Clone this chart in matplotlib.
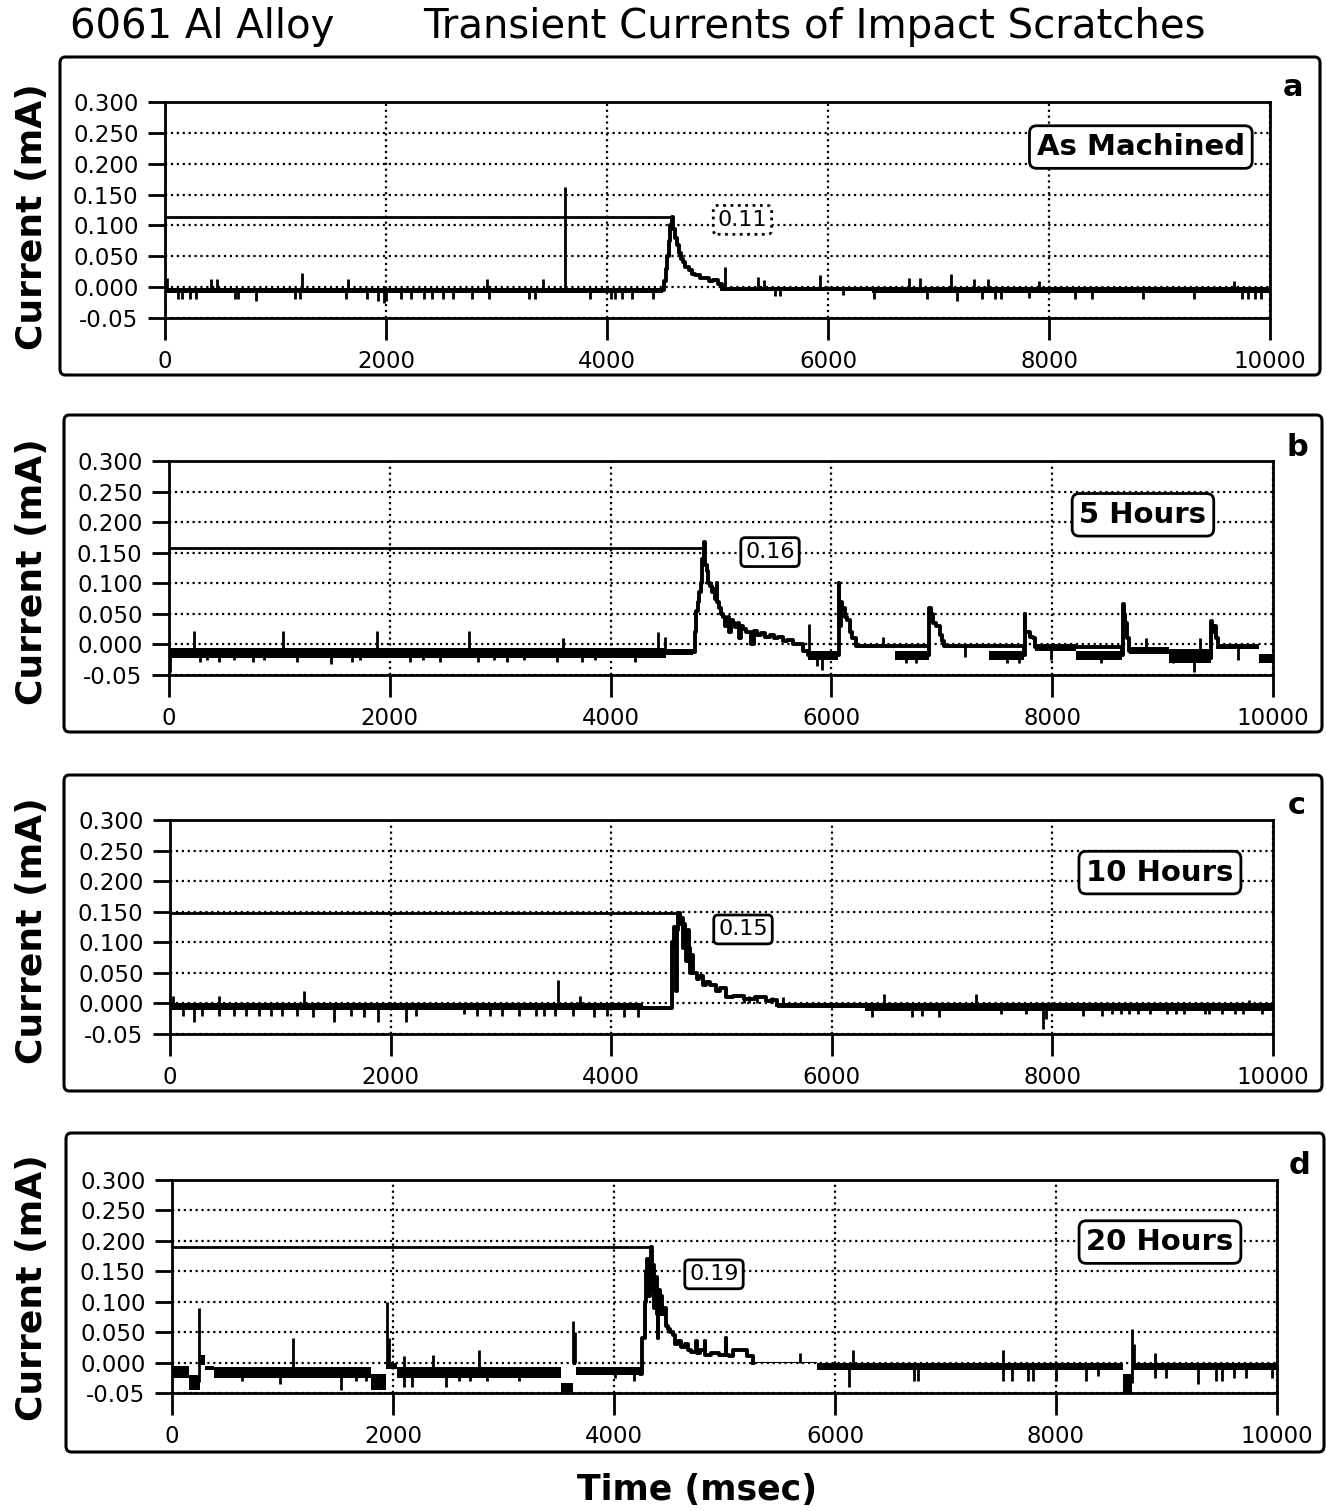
import matplotlib.pyplot as plt
import numpy as np
from matplotlib.patches import FancyBboxPatch

plt.rcParams['font.family'] = 'DejaVu Sans'

W, H = 1326, 1511

# ---------------- data (time in msec, current in mA) ----------------
# dense noise band: (t0, t1, low, high)
# transient trace: (t, i) steps
# thin spikes: (t, tip)
y_ticks = [-0.05, 0.0, 0.05, 0.10, 0.15, 0.20, 0.25, 0.30]
y_tick_labels = ['-0.05', '0.000', '0.050', '0.100', '0.150', '0.200', '0.250', '0.300']
x_ticks = [0, 2000, 4000, 6000, 8000, 10000]

# a - as machined
a_band = [(0, 4510, -0.010, -0.001), (5040, 6400, -0.007, 0.000), (6400, 10000, -0.010, 0.000)]
a_trace = [(4500, -0.005), (4515, 0.010), (4530, 0.030), (4545, 0.050), (4560, 0.075), (4572, 0.100),
           (4585, 0.113), (4600, 0.095), (4615, 0.080), (4630, 0.068), (4650, 0.055), (4670, 0.045),
           (4690, 0.040), (4710, 0.032), (4740, 0.028), (4770, 0.022), (4800, 0.020), (4840, 0.015),
           (4880, 0.015), (4920, 0.010), (4960, 0.012), (5000, 0.005), (5040, -0.003)]
a_up = [(20, 0.015), (420, 0.014), (475, 0.014), (1240, 0.023), (1660, 0.014), (2915, 0.014),
        (3420, 0.014), (3620, 0.163), (5065, 0.033), (5370, 0.016), (5420, 0.012), (5930, 0.020),
        (6730, 0.015), (6830, 0.015), (7110, 0.022), (7320, 0.013), (7450, 0.013), (7910, 0.010),
        (9670, 0.010)]
a_dn = [(115, -0.020), (150, -0.020), (230, -0.020), (285, -0.020), (630, -0.020), (665, -0.020),
        (820, -0.022), (1180, -0.020), (1220, -0.020), (1640, -0.020), (1830, -0.020), (1925, -0.022),
        (1980, -0.025), (2000, -0.022), (2135, -0.020), (2230, -0.020), (2345, -0.020), (2420, -0.020),
        (2515, -0.020), (2610, -0.020), (2780, -0.020), (2935, -0.020), (3295, -0.020), (3350, -0.020),
        (3850, -0.020), (4040, -0.020), (4075, -0.020), (4135, -0.020), (4230, -0.020), (4420, -0.020),
        (5520, -0.015), (5570, -0.015), (6135, -0.012), (6420, -0.020), (6900, -0.020), (7165, -0.022),
        (7395, -0.020), (7510, -0.020), (7570, -0.020), (7815, -0.018), (8235, -0.020), (8390, -0.020),
        (8850, -0.020), (9310, -0.020), (9750, -0.020), (9805, -0.020), (9860, -0.020), (9920, -0.020)]
a_max = (4585, 0.113)

# b - 5 hours
b_band = [(0, 4500, -0.022, -0.006), (4500, 4745, -0.018, -0.008), (5790, 6060, -0.026, -0.010),
          (6220, 6580, -0.006, 0.000), (6580, 6880, -0.026, -0.010), (7020, 7430, -0.006, 0.000),
          (7430, 7745, -0.026, -0.010), (7845, 8220, -0.010, 0.000), (8220, 8635, -0.026, -0.010),
          (8700, 9060, -0.015, -0.005), (9060, 9435, -0.030, -0.012), (9500, 9870, -0.008, 0.000),
          (9870, 10000, -0.030, -0.015)]
b_trace = [(4745, -0.013), (4760, 0.020), (4775, 0.055), (4790, 0.070), (4805, 0.085), (4820, 0.100),
           (4832, 0.140), (4846, 0.168), (4858, 0.130), (4870, 0.120), (4885, 0.100), (4900, 0.095),
           (4915, 0.085), (4930, 0.090), (4945, 0.075), (4960, 0.100), (4968, 0.070), (4985, 0.060),
           (5000, 0.050), (5020, 0.045), (5040, 0.030), (5060, 0.045), (5075, 0.020), (5090, 0.040),
           (5110, 0.035), (5130, 0.028), (5150, 0.035), (5160, 0.010), (5180, 0.030), (5200, 0.025),
           (5230, 0.020), (5260, 0.020), (5270, 0.000), (5300, 0.022), (5330, 0.015), (5360, 0.018),
           (5400, 0.012), (5440, 0.015), (5480, 0.010), (5520, 0.012), (5560, 0.005), (5600, 0.008),
           (5650, 0.000), (5700, 0.000), (5740, -0.010), (5790, -0.018),
           (6060, -0.018), (6065, 0.100), (6072, 0.030), (6085, 0.070), (6100, 0.060), (6120, 0.045),
           (6140, 0.040), (6165, 0.020), (6190, 0.010), (6220, -0.003),
           (6880, -0.018), (6884, 0.060), (6900, 0.050), (6920, 0.035), (6950, 0.030), (6980, 0.015),
           (7005, 0.005), (7020, -0.003),
           (7745, -0.018), (7750, 0.050), (7758, 0.020), (7780, 0.020), (7800, 0.012), (7830, 0.010),
           (7845, -0.005),
           (8635, -0.018), (8640, 0.066), (8650, 0.050), (8662, 0.035), (8680, 0.010), (8700, -0.010),
           (9435, -0.022), (9440, 0.038), (9450, 0.020), (9460, 0.030), (9480, 0.010), (9500, -0.004)]
b_up = [(228, 0.022), (1030, 0.022), (1880, 0.022), (2720, 0.022), (3565, 0.010), (4430, 0.020),
        (4494, 0.012), (5800, 0.034), (6465, 0.012), (8846, 0.010), (9341, 0.010)]
b_dn = [(5, -0.045), (285, -0.028), (342, -0.025), (456, -0.028), (589, -0.025), (760, -0.028),
        (856, -0.025), (1160, -0.028), (1464, -0.032), (1654, -0.028), (1730, -0.025), (2186, -0.028),
        (2300, -0.025), (2452, -0.028), (2795, -0.028), (2947, -0.025), (3061, -0.028), (3213, -0.025),
        (3517, -0.028), (3745, -0.028), (3859, -0.025), (4221, -0.028), (5874, -0.035), (5912, -0.042),
        (6674, -0.030), (6770, -0.030), (7208, -0.020), (7589, -0.030), (7703, -0.030), (7989, -0.025),
        (8446, -0.030), (9093, -0.030), (9284, -0.045), (9684, -0.025)]
b_max = (4846, 0.158)

# c - 10 hours
c_band = [(0, 4290, -0.010, 0.000), (4290, 4545, -0.011, -0.004), (5500, 6300, -0.007, 0.000),
          (6300, 10000, -0.012, 0.000)]
c_trace = [(4545, -0.007), (4552, 0.100), (4565, 0.125), (4580, 0.090), (4588, 0.020), (4598, 0.120),
           (4610, 0.148), (4625, 0.130), (4638, 0.140), (4650, 0.090), (4660, 0.130), (4672, 0.110),
           (4682, 0.070), (4692, 0.120), (4702, 0.090), (4712, 0.050), (4722, 0.080), (4740, 0.050),
           (4760, 0.050), (4780, 0.040), (4800, 0.045), (4830, 0.030), (4860, 0.035), (4900, 0.030),
           (4950, 0.020), (4990, 0.025), (5040, 0.010), (5100, 0.012), (5200, 0.008), (5300, 0.010),
           (5400, 0.004), (5450, 0.006), (5500, -0.003)]
c_up = [(27, 0.012), (445, 0.012), (1217, 0.020), (3517, 0.038), (3715, 0.012), (5200, 0.013),
        (5250, 0.012), (5320, 0.012), (5460, 0.010), (5560, 0.010), (6470, 0.015), (7310, 0.015),
        (9786, 0.006)]
c_dn = [(122, -0.020), (217, -0.030), (293, -0.020), (445, -0.020), (578, -0.020), (692, -0.020),
        (806, -0.020), (920, -0.020), (1015, -0.020), (1148, -0.020), (1300, -0.022), (1490, -0.030),
        (1643, -0.020), (1757, -0.022), (1890, -0.030), (2137, -0.030), (2232, -0.020), (2669, -0.018),
        (2783, -0.020), (2897, -0.020), (3011, -0.020), (3163, -0.020), (3316, -0.020), (3392, -0.020),
        (3487, -0.020), (3658, -0.020), (3848, -0.022), (3962, -0.020), (4114, -0.022), (4247, -0.022),
        (6363, -0.022), (6727, -0.022), (6822, -0.020), (6975, -0.022), (7530, -0.018), (7759, -0.018),
        (7912, -0.042), (7939, -0.025), (8275, -0.020), (8447, -0.020), (8543, -0.018), (8620, -0.018),
        (8696, -0.018), (8772, -0.018), (8887, -0.018), (9040, -0.018), (9117, -0.018), (9193, -0.018),
        (9384, -0.018), (9423, -0.018), (9537, -0.018), (9652, -0.018), (9728, -0.018), (9900, -0.018)]
c_max = (4620, 0.148)

# d - 20 hours
d_band = [(0, 150, -0.025, -0.005), (150, 250, -0.045, -0.020), (250, 300, -0.004, 0.012),
          (300, 380, -0.013, -0.005), (380, 1800, -0.025, -0.008), (1800, 1935, -0.045, -0.018),
          (1935, 2040, -0.010, 0.000), (2040, 3520, -0.025, -0.008), (3520, 3625, -0.048, -0.033),
          (3625, 3660, -0.004, 0.004), (3660, 4245, -0.020, -0.008), (5260, 5840, -0.001, 0.001),
          (5840, 8610, -0.012, 0.000), (8610, 8690, -0.050, -0.018), (8690, 10000, -0.012, 0.000)]
d_trace = [(4245, -0.018), (4255, 0.040), (4272, 0.040), (4282, 0.100), (4292, 0.150), (4302, 0.170),
           (4312, 0.110), (4322, 0.170), (4335, 0.190), (4345, 0.120), (4355, 0.160), (4365, 0.090),
           (4375, 0.140), (4385, 0.080), (4395, 0.040), (4402, 0.120), (4412, 0.080), (4422, 0.110),
           (4435, 0.080), (4450, 0.090), (4470, 0.060), (4490, 0.055), (4510, 0.050), (4530, 0.045),
           (4550, 0.030), (4580, 0.035), (4610, 0.025), (4640, 0.030), (4670, 0.020), (4700, 0.018),
           (4743, 0.035), (4750, 0.015), (4780, 0.020), (4820, 0.035), (4828, 0.012), (4880, 0.015),
           (4950, 0.012), (5011, 0.040), (5018, 0.012), (5040, 0.010), (5080, 0.020), (5150, 0.020),
           (5200, 0.010), (5255, 0.010), (5260, 0.000)]
d_up = [(245, 0.090), (1093, 0.040), (1947, 0.100), (1966, 0.040), (2100, 0.010), (2364, 0.012),
        (2780, 0.020), (3628, 0.068), (3645, 0.050), (5682, 0.015), (6161, 0.020), (7521, 0.020),
        (8690, 0.055), (8705, 0.030), (8900, 0.015)]
d_dn = [(638, -0.030), (979, -0.035), (1530, -0.045), (1662, -0.030), (1757, -0.030), (2100, -0.040),
        (2175, -0.040), (2478, -0.040), (2600, -0.030), (2700, -0.030), (2850, -0.030), (3140, -0.030),
        (4010, -0.025), (4180, -0.030), (6123, -0.040), (6716, -0.030), (6755, -0.030), (7521, -0.030),
        (7600, -0.030), (7750, -0.030), (7790, -0.030), (8000, -0.030), (8268, -0.030), (8380, -0.022),
        (8900, -0.025), (8995, -0.025), (9284, -0.035), (9450, -0.030), (9500, -0.030), (9610, -0.025),
        (9720, -0.025), (9954, -0.025)]
d_max = (4335, 0.190)

panel_letters = ['a', 'b', 'c', 'd']
panel_names = ['As Machined', '5 Hours', '10 Hours', '20 Hours']
peak_labels = ['0.11', '0.16', '0.15', '0.19']

# ---------------- layout (pixels) ----------------
axes_px = [(165, 102, 1270, 318), (169, 461, 1273, 675), (170, 820, 1273, 1034), (172, 1180, 1277, 1393)]
frame_px = [(60, 57, 1320, 375), (64, 415, 1322, 732), (64, 775, 1322, 1091), (66, 1133, 1324, 1452)]
letter_px = [(1293, 87), (1297, 447), (1297, 805), (1300, 1165)]
ylabel_y = [217, 572, 931, 1288]
name_pos = [(8831, 0.227), (8822, 0.212), (8975, 0.214), (8941, 0.198)]
peak_pos = [(5226, 0.109), (5444, 0.151), (5195, 0.121), (4905, 0.145)]

bands = [a_band, b_band, c_band, d_band]
traces = [a_trace, b_trace, c_trace, d_trace]
ups = [a_up, b_up, c_up, d_up]
downs = [a_dn, b_dn, c_dn, d_dn]
maxes = [a_max, b_max, c_max, d_max]


def fx(px):
    return px / W


def fy(py):
    return 1 - py / H


def band_mid(t, band):
    for t0, t1, lo, hi in band:
        if t0 <= t <= t1:
            return (lo + hi) / 2
    return 0.0


fig = plt.figure(figsize=(W / 100, H / 100), dpi=100)

for k in range(4):
    x0, y0, x1, y1 = frame_px[k]
    fig.add_artist(FancyBboxPatch((fx(x0), fy(y1)), fx(x1 - x0), (y1 - y0) / H,
                                  boxstyle='round,pad=0,rounding_size=0.004',
                                  transform=fig.transFigure, fill=False, lw=2.2, ec='k'))

    l, t, r, b = axes_px[k]
    ax = fig.add_axes([fx(l), fy(b), fx(r - l), (b - t) / H])
    ax.set_xlim(0, 10000)
    ax.set_ylim(-0.05, 0.30)
    ax.set_xticks(x_ticks)
    ax.set_xticklabels([str(v) for v in x_ticks])
    ax.set_yticks(y_ticks)
    ax.set_yticklabels(y_tick_labels)
    ax.tick_params(axis='y', direction='out', length=12, width=2, pad=7, labelsize=16.5)
    ax.tick_params(axis='x', direction='out', length=16, width=2, pad=7, labelsize=16.5)
    ax.grid(True, ls=':', lw=1.6, color='k')
    ax.set_axisbelow(True)
    for s in ax.spines.values():
        s.set_linewidth(2)

    band = bands[k]
    t0 = [s[0] for s in band]
    t1 = [s[1] for s in band]
    lo = [s[2] for s in band]
    hi = [s[3] for s in band]
    ax.bar(t0, np.subtract(hi, lo), width=np.subtract(t1, t0), bottom=lo,
           align='edge', color='k', lw=0, zorder=3)

    tt = [p[0] for p in traces[k]]
    tv = [p[1] for p in traces[k]]
    ax.plot(tt, tv, drawstyle='steps-post', color='k', lw=2.8, zorder=4)

    spikes = ups[k] + downs[k]
    st = [p[0] for p in spikes]
    sv = [p[1] for p in spikes]
    sb = [band_mid(x, band) for x in st]
    ax.vlines(st, sb, sv, color='k', lw=2, zorder=4)

    mt, mv = maxes[k]
    ax.hlines(mv, 0, mt, color='k', lw=2, zorder=4)

    nx, ny = name_pos[k]
    ax.text(nx, ny, panel_names[k], ha='center', va='center', fontsize=21, fontweight='bold',
            bbox=dict(boxstyle='round,pad=0.25,rounding_size=0.25', fc='white', ec='k', lw=2), zorder=6)
    px_, py_ = peak_pos[k]
    ls = ':' if k == 0 else '-'
    ax.text(px_, py_, peak_labels[k], ha='center', va='center', fontsize=16,
            bbox=dict(boxstyle='round,pad=0.2,rounding_size=0.2', fc='white', ec='k', lw=2, ls=ls), zorder=6)

    lx, ly = letter_px[k]
    fig.text(fx(lx), fy(ly), panel_letters[k], ha='center', va='center', fontsize=22, fontweight='bold')
    fig.text(fx(32), fy(ylabel_y[k]), 'Current (mA)', rotation=90, ha='center', va='center',
             fontsize=26, fontweight='bold')

fig.text(fx(70), fy(27), '6061 Al Alloy', ha='left', va='center', fontsize=29)
fig.text(fx(423), fy(27), 'Transient Currents of Impact Scratches', ha='left', va='center', fontsize=29)
fig.text(fx(697), fy(1490), 'Time (msec)', ha='center', va='center', fontsize=25, fontweight='bold')

fig.savefig('out.png', dpi=100)
